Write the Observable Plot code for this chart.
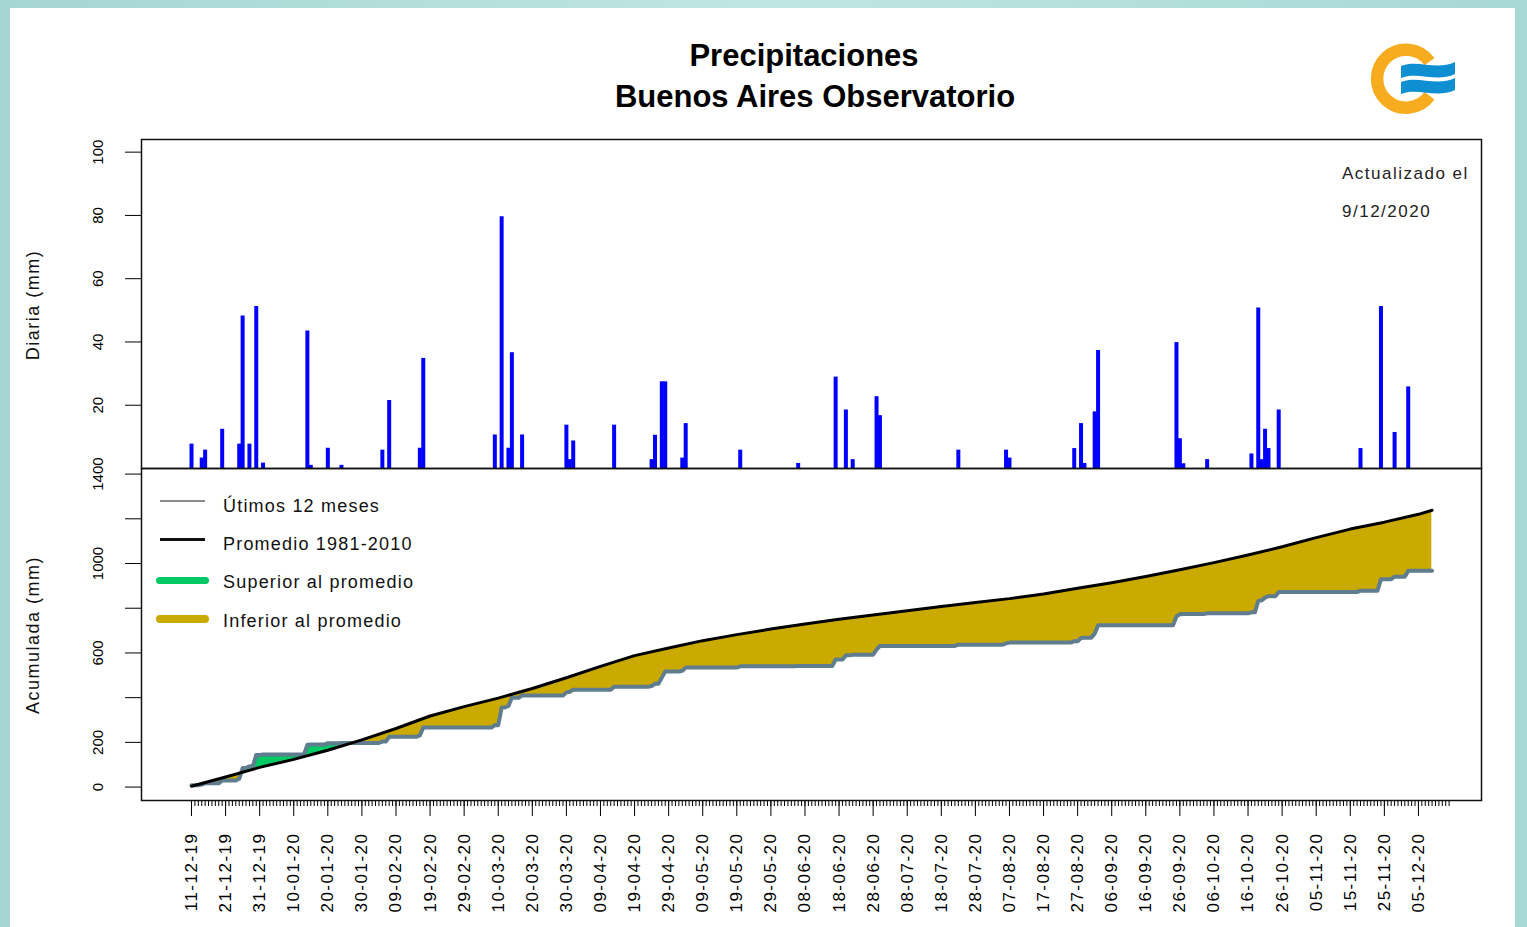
<!DOCTYPE html>
<html>
<head>
<meta charset="utf-8">
<script src="https://cdn.jsdelivr.net/npm/d3@7"></script>
<script src="https://cdn.jsdelivr.net/npm/@observablehq/plot@0.6"></script>
<style>
  html, body { margin: 0; padding: 0; }
  body { width: 1527px; height: 927px; position: relative; overflow: hidden;
         background: linear-gradient(90deg, #a6d6d2, #bfe6e2 50%, #a8d8d4); font-family: "Liberation Sans", Arial, sans-serif; }
  #card { position: absolute; left: 10px; top: 8px; width: 1505px; height: 930px; background: #fff; }
  .abs { position: absolute; white-space: nowrap; }
  .title { font-weight: bold; font-size: 31px; line-height: 31px; color: #000; transform: translateX(-50%); }
  .ylab { font-size: 18px; line-height: 18px; letter-spacing: 1.5px; color: #111; transform: translate(-50%, -50%) rotate(-90deg); }
  .leg { font-size: 18px; line-height: 18px; letter-spacing: 1.2px; color: #111; }
  .note { font-size: 17px; line-height: 17px; letter-spacing: 1.5px; color: #222; }
  #bottom [aria-label="x-axis tick label"] { letter-spacing: 1.5px; }
</style>
</head>
<body>
<div id="card"></div>
<div id="top" class="abs" style="left:0;top:0"></div>
<div id="bottom" class="abs" style="left:0;top:468px"></div>

<div class="abs title" style="left:804px;top:40px">Precipitaciones</div>
<div class="abs title" style="left:815px;top:81px">Buenos Aires Observatorio</div>

<div class="abs ylab" style="left:33px;top:305px">Diaria (mm)</div>
<div class="abs ylab" style="left:33px;top:635px">Acumulada (mm)</div>

<div class="abs note" style="left:1342px;top:165px">Actualizado el</div>
<div class="abs note" style="left:1342px;top:203px">9/12/2020</div>

<div class="abs" style="left:160px;top:499.5px;width:45px;height:2.5px;background:#8a8a8a"></div>
<div class="abs" style="left:160px;top:538px;width:45px;height:2.5px;background:#111"></div>
<div class="abs" style="left:156px;top:576.5px;width:53px;height:7.5px;border-radius:4px;background:#00c864"></div>
<div class="abs" style="left:156px;top:615px;width:53px;height:7.5px;border-radius:4px;background:#cbaa00"></div>
<div class="abs leg" style="left:223px;top:496.5px">Útimos 12 meses</div>
<div class="abs leg" style="left:223px;top:535px">Promedio 1981-2010</div>
<div class="abs leg" style="left:223px;top:573px">Superior al promedio</div>
<div class="abs leg" style="left:223px;top:611.5px">Inferior al promedio</div>

<svg class="abs" style="left:1360px;top:35px" width="105" height="90" viewBox="1360 35 105 90">
  <path d="M1429.5,61.6 A29,29 0 1 0 1429.5,95.8" fill="none" stroke="#f7ab1e" stroke-width="12.5"/>
  <path d="M1401,66 C1418,59 1436,71 1455,62 L1455,74 C1436,83 1418,71 1401,78 Z" fill="#0d8fd2"/>
  <path d="M1401,82 C1418,75 1436,87 1455,78 L1455,90 C1436,99 1418,87 1401,94 Z" fill="#0d8fd2"/>
</svg>

<script>
// ---- Daily precipitation (mm), last 12 months; day 0 = 11-12-2019 ----
const rainDay = [0,3,4,9,14,15,17,19,21,34,35,40,44,56,58,67,68,89,91,93,94,97,110,111,112,124,135,136,138,139,144,145,161,178,189,192,194,201,202,225,239,240,259,261,262,265,266,289,290,291,298,311,313,314,315,316,319,343,349,353,357];
const rainMm  = [7.7,3.3,5.8,12.4,7.7,48.2,7.7,51.2,1.7,43.5,1,6.4,1,5.8,21.5,6.4,34.8,10.6,79.6,6.4,36.6,10.6,13.7,2.8,8.7,13.7,2.8,10.5,27.4,27.4,3.3,14.2,5.8,1.6,28.9,18.5,2.8,22.7,16.7,5.8,5.8,3.3,6.3,14.2,1.6,17.9,37.3,39.8,9.4,1.5,2.8,4.6,50.7,2.8,12.4,6.3,18.5,6.3,51.2,11.4,25.8];
const lastDay = 364; // 9/12/2020

// ---- Cumulative average 1981-2010 (mm), read at these days ----
const avgDay = [0,10,20,30,40,50,60,70,80,90,100,110,120,130,140,150,160,170,180,190,200,210,220,230,240,250,260,270,280,290,300,310,320,330,340,350,360,364];
const avgMm  = [4,45,88,124,165,211,262,318,360,398,441,489,540,588,622,655,682,707,729,751,770,789,808,826,843,864,889,914,942,972,1004,1038,1075,1116,1154,1185,1220,1238];

// ---- Axis tick labels ----
const tickLabels = ["11-12-19","21-12-19","31-12-19","10-01-20","20-01-20","30-01-20","09-02-20","19-02-20","29-02-20","10-03-20","20-03-20","30-03-20","09-04-20","19-04-20","29-04-20","09-05-20","19-05-20","29-05-20","08-06-20","18-06-20","28-06-20","08-07-20","18-07-20","28-07-20","07-08-20","17-08-20","27-08-20","06-09-20","16-09-20","26-09-20","06-10-20","16-10-20","26-10-20","05-11-20","15-11-20","25-11-20","05-12-20"];
const topTicks = [20, 40, 60, 80, 100];
const bottomTicks = [0, 200, 400, 600, 800, 1000, 1200, 1400];
const bottomLabeled = [0, 200, 600, 1000, 1400];

// ---- Derived tables ----
const parse = d3.utcParse("%d-%m-%y");
const t0 = parse(tickLabels[0]);
const tickDays = tickLabels.map(s => Math.round((parse(s) - t0) / 864e5));
const labelByDay = new Map(tickDays.map((d, i) => [d, tickLabels[i]]));
const minorDays = d3.range(0, 370);

const rainByDay = new Map(rainDay.map((d, i) => [d, rainMm[i]]));
const daily = d3.range(0, lastDay + 1).map(d => ({day: d, mm: rainByDay.get(d) ?? 0}));
const cumVals = d3.cumsum(daily, d => d.mm);
const cumData = daily.map((d, i) => ({day: d.day, cum: cumVals[i]}));
const rainData = rainDay.map((d, i) => ({day: d, mm: rainMm[i]}));
const avgData = avgDay.map((d, i) => ({day: d, avg: avgMm[i]}));

const xDomain = [-14.67, 378.5];
const font = '"Liberation Sans", Arial, sans-serif';
const GREEN = "#00c864", GOLD = "#cbaa00";

const topPlot = Plot.plot({
  width: 1527, height: 468,
  marginLeft: 141, marginRight: 46, marginTop: 139, marginBottom: 0,
  x: {domain: xDomain, axis: null, label: null},
  y: {domain: [0, 104], axis: null, label: null},
  style: {background: "transparent", overflow: "visible", fontFamily: font, fontSize: "15px", color: "#000"},
  marks: [
    Plot.ruleX(rainData, {x: "day", y1: 0, y2: "mm", stroke: "#0000ff", strokeWidth: 4}),
    Plot.axisY({ticks: topTicks, label: null, tickSize: 16, tickPadding: 23, tickRotate: -90, fontSize: 15, stroke: "#000"}),
    Plot.frame({stroke: "#111", strokeWidth: 1.5})
  ]
});
document.getElementById("top").appendChild(topPlot);

const bottomPlot = Plot.plot({
  width: 1527, height: 459,
  marginLeft: 141, marginRight: 46, marginTop: 0, marginBottom: 127,
  x: {domain: xDomain, axis: null, label: null},
  y: {domain: [-60, 1425], axis: null, label: null},
  style: {background: "transparent", overflow: "visible", fontFamily: font, fontSize: "15px", color: "#000"},
  marks: [
    Plot.areaY(avgData, {x: "day", y1: "avg", y2: 1425, fill: "#000001", ariaDescription: "clip-above-avg"}),
    Plot.areaY(cumData, {x: "day", y1: "cum", y2: 1425, fill: "#000002", ariaDescription: "clip-above-cum"}),
    Plot.areaY(cumData, {x: "day", y1: 0, y2: "cum", fill: GREEN, ariaDescription: "area-green"}),
    Plot.areaY(avgData, {x: "day", y1: 0, y2: "avg", fill: GOLD, ariaDescription: "area-gold"}),
    Plot.lineY(cumData, {x: "day", y: "cum", stroke: "#5f7d8e", strokeWidth: 4}),
    Plot.lineY(avgData, {x: "day", y: "avg", stroke: "#000", strokeWidth: 3}),
    Plot.axisY({ticks: bottomTicks, label: null, tickFormat: d => bottomLabeled.includes(d) ? String(d) : "",
                tickSize: 16, tickPadding: 23, tickRotate: -90, fontSize: 15, stroke: "#000"}),
    Plot.axisX({ticks: minorDays, label: null, tickFormat: () => "", tickSize: 6, stroke: "#000", strokeWidth: 1}),
    Plot.axisX({ticks: tickDays, label: null, tickFormat: d => labelByDay.get(d), tickSize: 16, tickPadding: 16,
                tickRotate: -90, fontSize: 17, stroke: "#000"}),
    Plot.frame({stroke: "#111", strokeWidth: 1.5})
  ]
});
document.getElementById("bottom").appendChild(bottomPlot);

// Clip the fills so that only the region between the two curves is coloured
function findGroup(svg, desc, fill) {
  return svg.querySelector(`[aria-description="${desc}"]`) || svg.querySelector(`g[fill="${fill}"]`);
}
function applyClip(svg, srcDesc, srcFill, tgtDesc, tgtFill, id) {
  const ns = "http://www.w3.org/2000/svg";
  const src = findGroup(svg, srcDesc, srcFill);
  const tgt = findGroup(svg, tgtDesc, tgtFill);
  if (!src || !tgt) return;
  const path = src.querySelector("path");
  let defs = svg.querySelector("defs");
  if (!defs) { defs = document.createElementNS(ns, "defs"); svg.insertBefore(defs, svg.firstChild); }
  const cp = document.createElementNS(ns, "clipPath");
  cp.setAttribute("id", id);
  cp.appendChild(path);
  defs.appendChild(cp);
  src.remove();
  tgt.setAttribute("clip-path", `url(#${id})`);
}
applyClip(bottomPlot, "clip-above-avg", "#000001", "area-green", GREEN, "clipAboveAvg");
applyClip(bottomPlot, "clip-above-cum", "#000002", "area-gold", GOLD, "clipAboveCum");
</script>
</body>
</html>
